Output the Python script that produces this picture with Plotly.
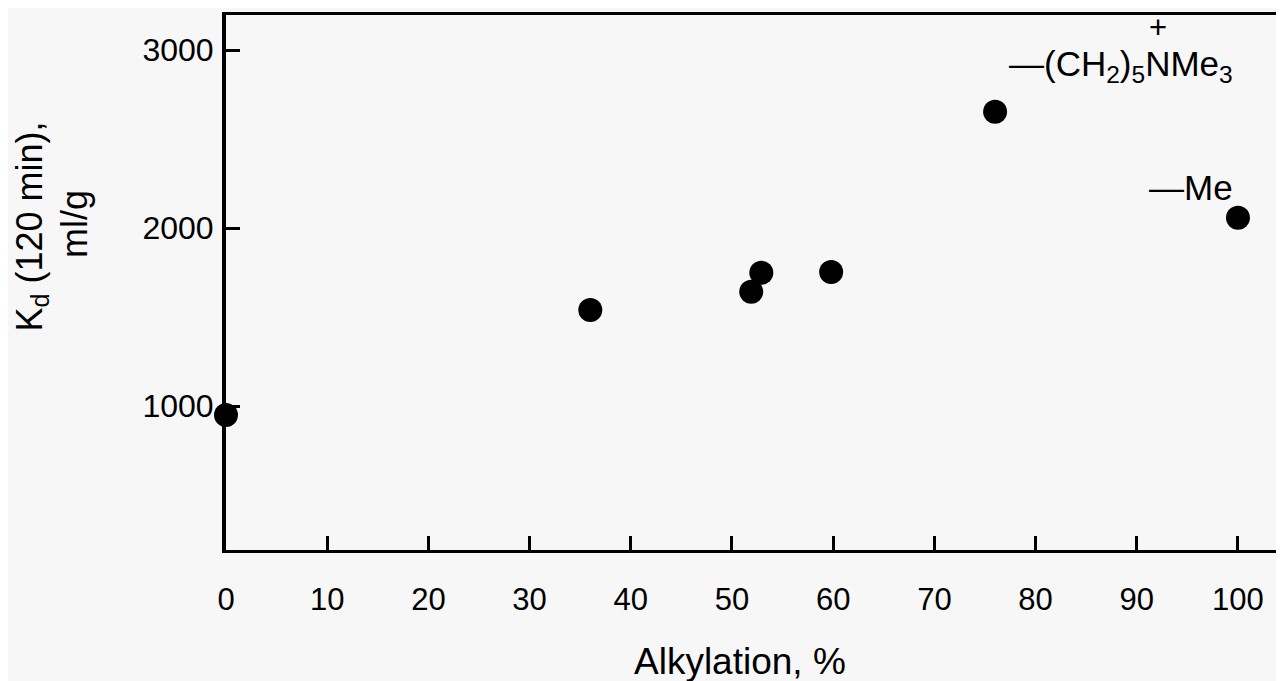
import plotly.graph_objects as go

# Data
alkylation = [0, 36, 51.9, 52.9, 59.8, 76.0, 100]
kd_values = [950, 1540, 1642, 1749, 1753, 2653, 2058]
x_ticks = [0, 10, 20, 30, 40, 50, 60, 70, 80, 90, 100]
y_ticks = [1000, 2000, 3000]

FONT = "Liberation Sans, Arial, Helvetica, sans-serif"
BG = "#f7f7f7"

fig = go.Figure()
fig.add_trace(go.Scatter(
    x=alkylation, y=kd_values, mode="markers",
    marker=dict(size=24, color="black"),
    cliponaxis=False, showlegend=False,
))

fig.update_layout(
    width=1276, height=673,
    margin=dict(l=218, r=0, t=7, b=131),
    paper_bgcolor=BG, plot_bgcolor=BG,
    font=dict(family=FONT, color="black", size=31),
    xaxis=dict(
        range=[0, 104.55], tickvals=x_ticks, ticktext=[str(v) for v in x_ticks],
        ticks="inside", ticklen=14, tickwidth=3, tickcolor="black",
        showline=True, linewidth=3, linecolor="black", mirror=True,
        showgrid=False, zeroline=False,
        tickfont=dict(size=31, family=FONT, color="black"),
        ticklabelstandoff=20,
    ),
    yaxis=dict(
        range=[191, 3197], tickvals=y_ticks, ticktext=[str(v) for v in y_ticks],
        ticks="inside", ticklen=14, tickwidth=3, tickcolor="black",
        showline=True, linewidth=4, linecolor="black", mirror=False,
        showgrid=False, zeroline=False,
        tickfont=dict(size=32, family=FONT, color="black"),
        ticklabelstandoff=2,
    ),
)

annots = [
    dict(text="Alkylation, %", xref="paper", yref="paper", x=0.4858, y=-0.209,
         xanchor="center", yanchor="middle", showarrow=False, font=dict(size=37)),
    dict(text="K<sub>d</sub> (120 min),", xref="paper", yref="paper", x=-0.1838, y=0.6037,
         xanchor="center", yanchor="middle", textangle=-90, showarrow=False, font=dict(size=36)),
    dict(text="ml/g", xref="paper", yref="paper", x=-0.1436, y=0.6093,
         xanchor="center", yanchor="middle", textangle=-90, showarrow=False, font=dict(size=36)),
    dict(text="—(CH<sub>2</sub>)<sub>5</sub>NMe<sub>3</sub>", xref="x", yref="y", x=77.17, y=2910,
         xanchor="left", yanchor="middle", showarrow=False, font=dict(size=35)),
    dict(text="+", xref="x", yref="y", x=92.09, y=3124,
         xanchor="center", yanchor="middle", showarrow=False, font=dict(size=31)),
    dict(text="—Me", xref="x", yref="y", x=91.0, y=2225,
         xanchor="left", yanchor="middle", showarrow=False, font=dict(size=35)),
]
fig.update_layout(annotations=annots)

fig.write_html("out.html")
